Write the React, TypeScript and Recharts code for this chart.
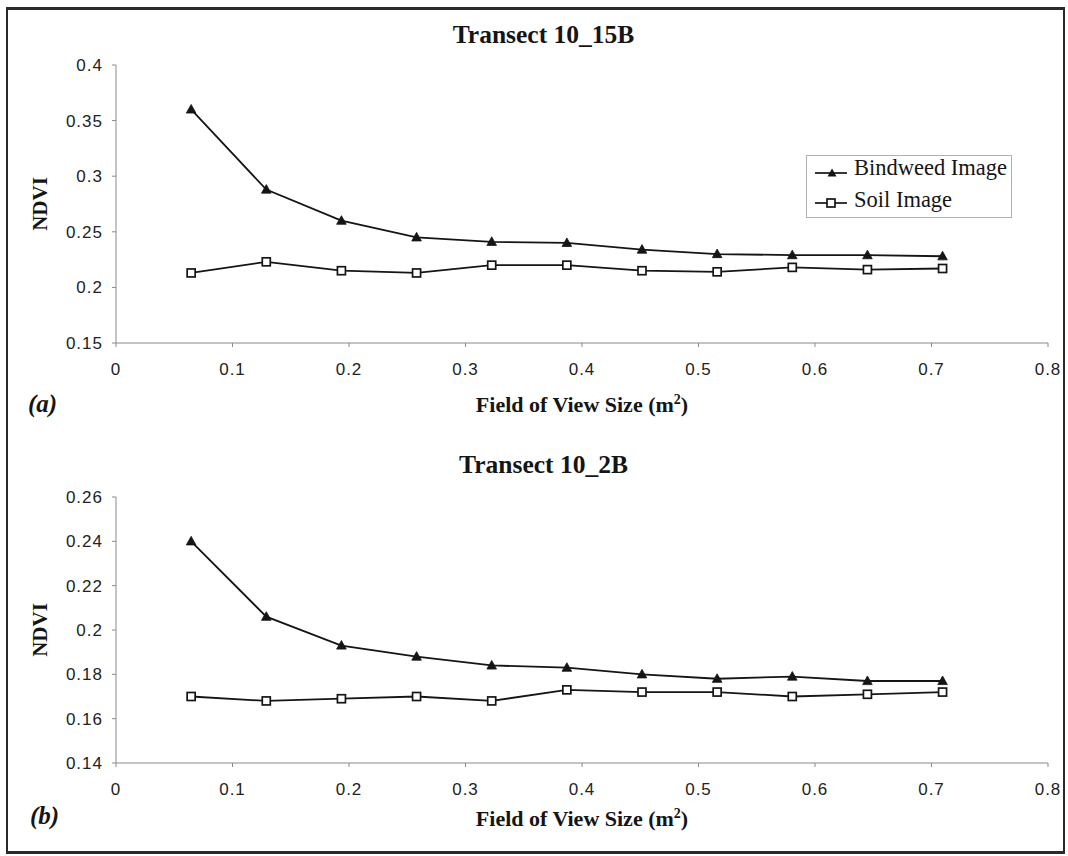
import React from 'react';
import { LineChart, Line, XAxis, YAxis, Legend, Label } from 'recharts';

// Field of view sizes (m^2)
const fovSize = [0.0645, 0.129, 0.1935, 0.258, 0.3225, 0.387, 0.4515, 0.516, 0.5805, 0.645, 0.7095];

// Transect 10_15B
const bindweedA = [0.360, 0.288, 0.260, 0.245, 0.241, 0.240, 0.234, 0.230, 0.229, 0.229, 0.228];
const soilA = [0.213, 0.223, 0.215, 0.213, 0.220, 0.220, 0.215, 0.214, 0.218, 0.216, 0.217];

// Transect 10_2B
const bindweedB = [0.240, 0.206, 0.193, 0.188, 0.184, 0.183, 0.180, 0.178, 0.179, 0.177, 0.177];
const soilB = [0.170, 0.168, 0.169, 0.170, 0.168, 0.173, 0.172, 0.172, 0.170, 0.171, 0.172];

const xTicks = [0, 0.1, 0.2, 0.3, 0.4, 0.5, 0.6, 0.7, 0.8];
const yTicksA = [0.15, 0.2, 0.25, 0.3, 0.35, 0.4];
const yTicksB = [0.14, 0.16, 0.18, 0.2, 0.22, 0.24, 0.26];

const seriesNames = ['Bindweed Image', 'Soil Image'];

const dataA = fovSize.map((x, i) => ({ x, bindweed: bindweedA[i], soil: soilA[i] }));
const dataB = fovSize.map((x, i) => ({ x, bindweed: bindweedB[i], soil: soilB[i] }));

const INK = '#151515';
const AXIS = '#8a8a8a';
const SANS = '"Liberation Sans", Arial, sans-serif';
const SERIF = '"Liberation Serif", "Times New Roman", serif';

const TriangleDot = (p: any) => {
  const { cx, cy, index } = p;
  if (cx == null || cy == null) return <g key={`t${index}`} />;
  return (
    <path
      key={`t${index}`}
      d={`M${cx},${cy - 5}L${cx + 4.8},${cy + 3.6}L${cx - 4.8},${cy + 3.6}Z`}
      fill={INK}
      stroke={INK}
      strokeWidth={0.8}
    />
  );
};

const SquareDot = (p: any) => {
  const { cx, cy, index } = p;
  if (cx == null || cy == null) return <g key={`s${index}`} />;
  return (
    <rect key={`s${index}`} x={cx - 4} y={cy - 4} width={8} height={8} fill="#fff" stroke={INK} strokeWidth={1.7} />
  );
};

const LegendBox = () => (
  <div
    style={{
      position: 'relative',
      width: 206,
      height: 63,
      boxSizing: 'border-box',
      border: '1px solid #b0b0b0',
      fontFamily: SERIF,
      fontSize: 22,
      color: INK,
      background: '#fff',
    }}
  >
    <svg width={206} height={63} style={{ position: 'absolute', left: -1, top: -1 }}>
      <line x1={9} x2={41} y1={18} y2={18} stroke={INK} strokeWidth={1.7} />
      <path d={`M26,13.5L30.5,21.5L21.5,21.5Z`} fill={INK} />
      <line x1={9} x2={41} y1={48} y2={48} stroke={INK} strokeWidth={1.7} />
      <rect x={21} y={44} width={8} height={8} fill="#fff" stroke={INK} strokeWidth={1.7} />
      <text x={48} y={20} fontFamily={SERIF} fontSize={22.5} fill={INK}>{seriesNames[0]}</text>
      <text x={48} y={52} fontFamily={SERIF} fontSize={22.5} fill={INK}>{seriesNames[1]}</text>
    </svg>
  </div>
);

type PanelProps = {
  data: any[];
  yDomain: [number, number];
  yTicks: number[];
  height: number;
  marginTop: number;
  marginBottom: number;
  xLabelOffset: number;
  showLegend: boolean;
};

const fmt = (v: number) => String(v);

const Panel = ({ data, yDomain, yTicks, height, marginTop, marginBottom, xLabelOffset, showLegend }: PanelProps) => (
  <LineChart
    width={1068}
    height={height}
    data={data}
    margin={{ top: marginTop, right: 20, bottom: marginBottom, left: 56 }}
  >
    <XAxis
      dataKey="x"
      type="number"
      domain={[0, 0.8]}
      ticks={xTicks}
      tickFormatter={fmt}
      height={40}
      stroke={AXIS}
      tickSize={4}
      tickMargin={16}
      tick={{ fill: '#222', fontFamily: SANS, fontSize: 17, letterSpacing: 1 }}
      interval={0}
    >
      <Label
        content={(props: any) => {
          const vb = props.viewBox || {};
          const cx = (vb.x ?? 116) + (vb.width ?? 932) / 2;
          const y = (vb.y ?? 0) + xLabelOffset;
          return (
            <text x={cx} y={y} textAnchor="middle" fontFamily={SERIF} fontWeight="bold" fontSize={22} fill={INK}>
              Field of View Size (m
              <tspan dy={-8} fontSize={14}>2</tspan>
              <tspan dy={8}>)</tspan>
            </text>
          );
        }}
      />
    </XAxis>
    <YAxis
      type="number"
      domain={yDomain}
      ticks={yTicks}
      tickFormatter={fmt}
      width={60}
      stroke={AXIS}
      tickSize={4}
      tickMargin={9}
      tick={{ fill: '#222', fontFamily: SANS, fontSize: 17, letterSpacing: 1 }}
      interval={0}
    >
      <Label
        content={(props: any) => {
          const vb = props.viewBox || {};
          const cx = (vb.x ?? 56) - 16;
          const cy = (vb.y ?? 0) + (vb.height ?? 0) / 2;
          return (
            <text
              x={cx}
              y={cy}
              textAnchor="middle"
              dominantBaseline="central"
              transform={`rotate(-90 ${cx} ${cy})`}
              fontFamily={SERIF}
              fontWeight="bold"
              fontSize={21}
              fill={INK}
            >
              NDVI
            </text>
          );
        }}
      />
    </YAxis>
    {showLegend && (
      <Legend
        layout="horizontal"
        verticalAlign="middle"
        align="center"
        wrapperStyle={{ left: 806, top: 155, width: 206, height: 63 }}
        content={() => <LegendBox />}
      />
    )}
    <Line
      type="linear"
      dataKey="bindweed"
      name={seriesNames[0]}
      stroke={INK}
      strokeWidth={1.8}
      dot={TriangleDot}
      activeDot={false}
      isAnimationActive={false}
    />
    <Line
      type="linear"
      dataKey="soil"
      name={seriesNames[1]}
      stroke={INK}
      strokeWidth={1.8}
      dot={SquareDot}
      activeDot={false}
      isAnimationActive={false}
    />
  </LineChart>
);

export default function App() {
  return (
    <div style={{ position: 'absolute', left: 0, top: 0, width: 1068, height: 856, background: '#fff', overflow: 'hidden' }}>
      <div
        style={{
          position: 'absolute',
          left: 6,
          top: 7,
          width: 1059,
          height: 847,
          boxSizing: 'border-box',
          borderTop: '3px solid #2a2a2a',
          borderLeft: '2px solid #2a2a2a',
          borderBottom: '3px solid #2a2a2a',
          borderRight: '2px solid #2a2a2a',
        }}
      />
      <div style={{ position: 'absolute', left: 0, top: 0 }}>
        <Panel
          data={dataA}
          yDomain={[0.15, 0.4]}
          yTicks={yTicksA}
          height={420}
          marginTop={65}
          marginBottom={37}
          xLabelOffset={69}
          showLegend={true}
        />
      </div>
      <div style={{ position: 'absolute', left: 0, top: 420 }}>
        <Panel
          data={dataB}
          yDomain={[0.14, 0.26]}
          yTicks={yTicksB}
          height={436}
          marginTop={77}
          marginBottom={53}
          xLabelOffset={63}
          showLegend={false}
        />
      </div>
      <svg width={1068} height={856} style={{ position: 'absolute', left: 0, top: 0, pointerEvents: 'none' }}>
        <text x={543.5} y={43} textAnchor="middle" fontFamily={SERIF} fontWeight="bold" fontSize={25.5} fill={INK}>
          Transect 10_15B
        </text>
        <text x={543.5} y={473} textAnchor="middle" fontFamily={SERIF} fontWeight="bold" fontSize={25.5} fill={INK}>
          Transect 10_2B
        </text>
        <text x={28} y={412} fontFamily={SERIF} fontWeight="bold" fontStyle="italic" fontSize={25} fill={INK}>
          (a)
        </text>
        <text x={30} y={824} fontFamily={SERIF} fontWeight="bold" fontStyle="italic" fontSize={25} fill={INK}>
          (b)
        </text>
      </svg>
    </div>
  );
}
